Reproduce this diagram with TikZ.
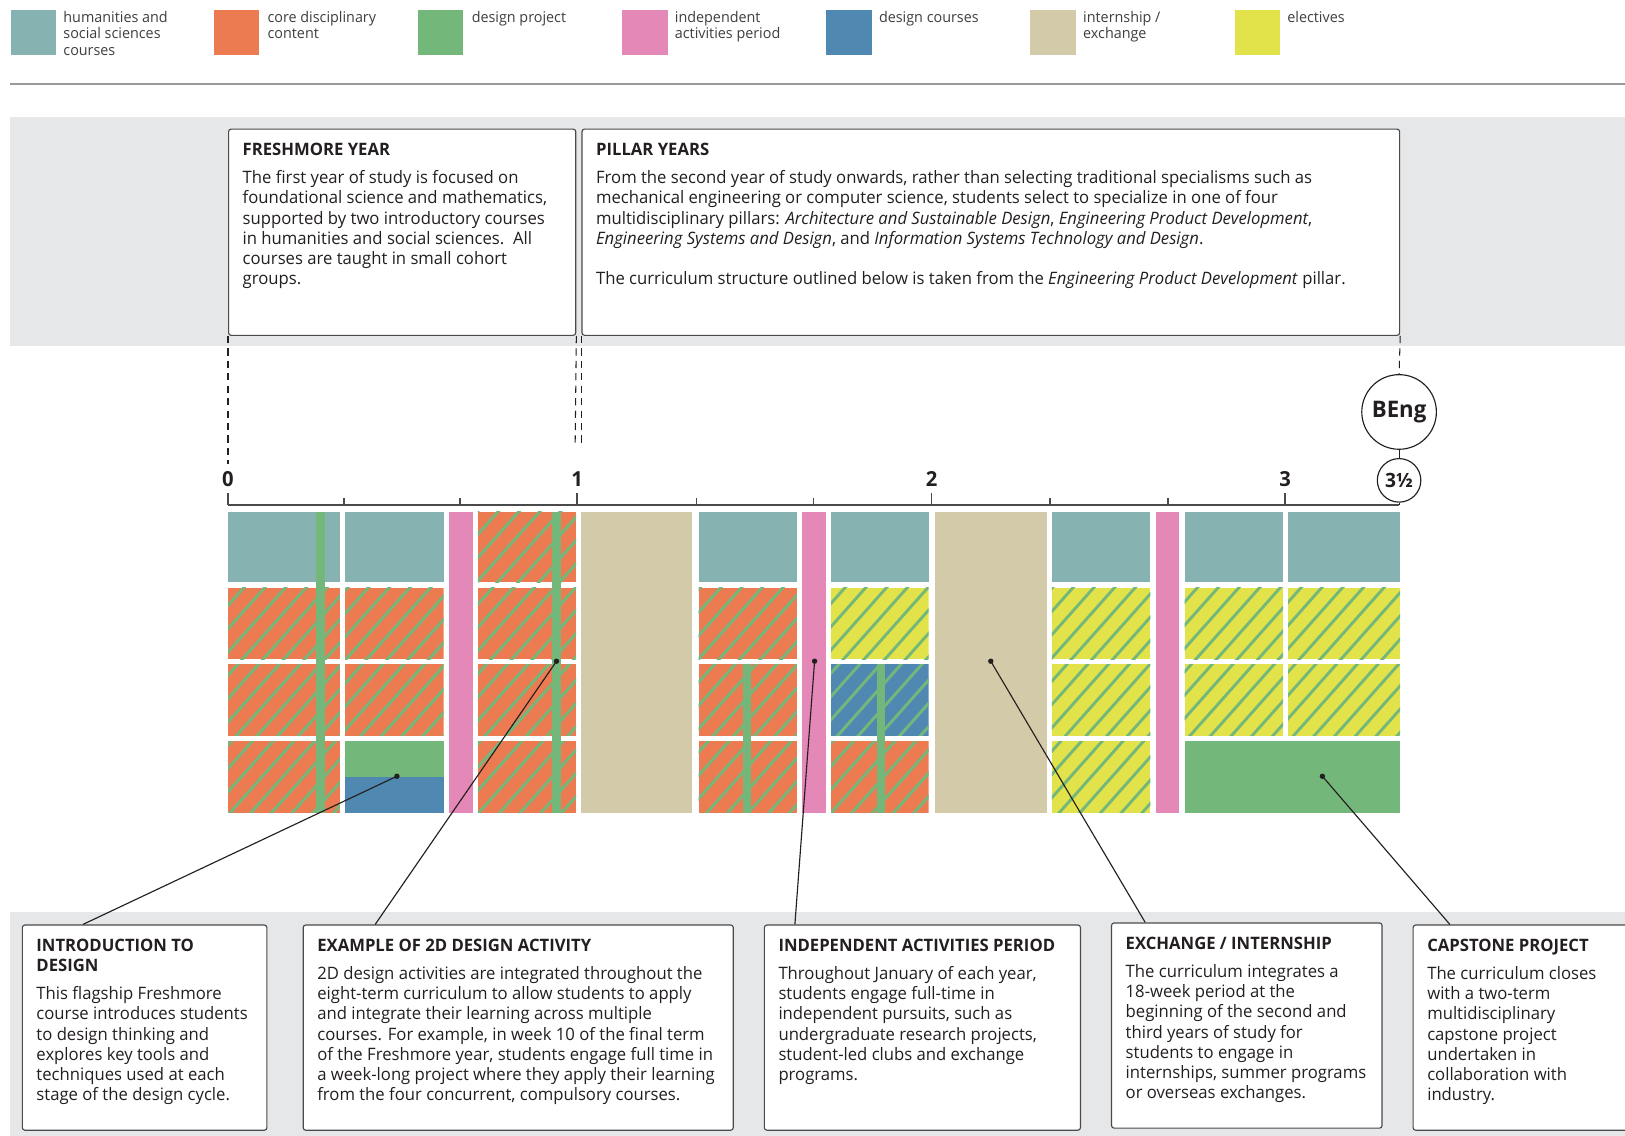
\documentclass[tikz,border=0pt]{standalone}
\usepackage{fontspec}
\setmainfont{Open Sans}[FakeStretch=0.975]
\definecolor{cteal}{HTML}{86B2B2}
\definecolor{corange}{HTML}{EC7B52}
\definecolor{cgreen}{HTML}{74B77B}
\definecolor{cpink}{HTML}{E488B8}
\definecolor{cblue}{HTML}{4F89B2}
\definecolor{ctan}{HTML}{D2CAA8}
\definecolor{cyellow}{HTML}{E2E34A}
\definecolor{band}{HTML}{E6E7E8}
\definecolor{ink}{HTML}{231F20}
\definecolor{leggray}{HTML}{3F3F3F}
\definecolor{boxline}{HTML}{4A4A4A}
\definecolor{rulegray}{HTML}{9A9A9A}
% hatched rectangle: fill colour, x1, y1, x2, y2 (y grows downwards)
\newcommand\hatchblock[5]{%
  \begin{scope}
    \clip (#2,#3) rectangle (#4,#5);
    \fill[#1] (#2,#3) rectangle (#4,#5);
    \pgfmathtruncatemacro\kmin{floor((#2+#3*0.89)/20)-1}%
    \pgfmathtruncatemacro\kmax{ceil((#4+#5*0.89)/20)+1}%
    \foreach \n in {\kmin,...,\kmax} {
      \draw[cgreen,line width=2.8pt] ({\n*20-(#3-3)*0.89},#3-3) -- ({\n*20-(#5+3)*0.89},#5+3);
    }
  \end{scope}}
\begin{document}
\begin{tikzpicture}[x=1pt,y=-1pt,
  sw/.style={minimum width=44pt,minimum height=44pt,inner sep=0pt,anchor=north west},
  leg/.style={anchor=north west,inner sep=0pt,align=left,font=\fontsize{14.2}{16}\selectfont,text=leggray},
  box/.style={draw=boxline,line width=1.1pt,rounded corners=2.5pt,fill=white,anchor=north west,inner sep=0pt},
  txt/.style={anchor=north west,inner sep=0pt,align=left,font=\fontsize{16.5}{19.5}\selectfont,text=ink},
  dsh/.style={draw=ink,line width=1pt,dash pattern=on 7pt off 5pt},
  con/.style={draw=ink,line width=1.1pt},
  tick/.style={draw=boxline,line width=1.5pt},
  ylab/.style={font=\bfseries\fontsize{20}{20}\selectfont,text=ink,inner sep=0pt}
]
\useasboundingbox (0,0) rectangle (1568,1096);
\fill[white] (0,0) rectangle (1568,1096);

% ---------- legend ----------
\node[sw,fill=cteal]   (sw1) at (10,9) {};
\node[leg] (lg1) at (61,10.5) {humanities and\\social sciences\\courses};
\node[sw,fill=corange] (sw2) at (206,9) {};
\node[leg] (lg2) at (258,10.5) {core disciplinary\\content};
\node[sw,fill=cgreen]  (sw3) at (403,9) {};
\node[leg] (lg3) at (455,10.5) {design project};
\node[sw,fill=cpink]   (sw4) at (600,9) {};
\node[leg] (lg4) at (651,10.5) {independent\\activities period};
\node[sw,fill=cblue]   (sw5) at (797,9) {};
\node[leg] (lg5) at (848,10.5) {design courses};
\node[sw,fill=ctan]    (sw6) at (994,9) {};
\node[leg] (lg6) at (1045,10.5) {internship /\\exchange};
\node[sw,fill=cyellow] (sw7) at (1191,9) {};
\node[leg] (lg7) at (1242,10.5) {electives};
\draw[rulegray,line width=1.2pt] (10,81) -- (1568,81);

% ---------- bands ----------
\fill[band] (10,113) rectangle (1568,334);
\fill[band] (10,880) rectangle (1568,1096);

% ---------- top boxes ----------
\node[box,minimum width=335pt,minimum height=199pt] (fy) at (220,124) {};
\node[txt] (fyt) at (234,138) {\textbf{FRESHMORE YEAR}\\[7.5pt]
The first year of study is focused on\\
foundational science and mathematics,\\
supported by two introductory courses\\
in humanities and social sciences.\ \ All\\
courses are taught in small cohort\\
groups.};
\node[box,minimum width=789pt,minimum height=199pt] (pb) at (561,124) {};
\node[txt] (pbt) at (575,138) {\textbf{PILLAR YEARS}\\[7.5pt]
From the second year of study onwards, rather than selecting traditional specialisms such as\\
mechanical engineering or computer science, students select to specialize in one of four\\
multidisciplinary pillars: \textit{Architecture and Sustainable Design}, \textit{Engineering Product Development},\\
\textit{Engineering Systems and Design}, and \textit{Information Systems Technology and Design}.\\[19.5pt]
The curriculum structure outlined below is taken from the \textit{Engineering Product Development} pillar.};

% ---------- axis ----------
\coordinate (ax0) at (220,487.5);
\coordinate (axend) at (1350,487.5);
\draw[tick] (ax0) -- (axend);
\foreach \x in {220,557,899,1240} \draw[tick] (\x,476) -- (\x,487.5);
\foreach \x in {332,444,672,785,1013,1127} \draw[tick] (\x,481) -- (\x,487.5);
\node[ylab] (l0) at (220,462) {0};
\node[ylab] (l1) at (557,462) {1};
\node[ylab] (l2) at (899,462) {2};
\node[ylab] (l3) at (1240,462) {3};

\node[circle,draw=ink,line width=1.1pt,fill=white,minimum size=72pt,inner sep=0pt,
      font=\bfseries\fontsize{22}{22}\selectfont,text=ink] (beng) at (1350,397.5) {BEng};
\node[circle,draw=ink,line width=1.1pt,fill=white,minimum size=42pt,inner sep=0pt,
      font=\bfseries\fontsize{19}{19}\selectfont,text=ink] (half) at (1350,463.5) {3½};
\draw[con] (beng) -- (half);
\draw[con] (half) -- (axend);

% dashed guides
\coordinate (q0) at (220,448);
\coordinate (q1a) at (555,428);
\coordinate (q1b) at (561,428);
\draw[dsh] (fy.south west) -- (q0);
\draw[dsh] (fy.south east) -- (q1a);
\draw[dsh] (pb.south west) -- (q1b);
\draw[dsh] (pb.south east) -- (beng.north);

% ---------- curriculum blocks ----------
% column A
\fill[cteal] (220,494) rectangle (328,562);
\hatchblock{corange}{220}{567}{328}{636}
\hatchblock{corange}{220}{641}{328}{710}
\hatchblock{corange}{220}{715}{328}{784}
\fill[cgreen] (305,494) rectangle (314,784);
% column B
\fill[cteal] (333,494) rectangle (428,562);
\hatchblock{corange}{333}{567}{428}{636}
\hatchblock{corange}{333}{641}{428}{710}
\fill[cgreen] (333,715) rectangle (428,750);
\fill[cblue] (333,750) rectangle (428,784);
% pink 1
\fill[cpink] (433,494) rectangle (456,784);
% column C
\hatchblock{corange}{461}{494}{556}{562}
\hatchblock{corange}{461}{567}{556}{636}
\hatchblock{corange}{461}{641}{556}{710}
\hatchblock{corange}{461}{715}{556}{784}
\fill[cgreen] (533,494) rectangle (541,784);
% tan 1
\fill[ctan] (561,494) rectangle (668,784);
% column D
\fill[cteal] (674,494) rectangle (769,562);
\hatchblock{corange}{674}{567}{769}{636}
\hatchblock{corange}{674}{641}{769}{710}
\hatchblock{corange}{674}{715}{769}{784}
\fill[cgreen] (717,641) rectangle (725,784);
% pink 2
\fill[cpink] (774,494) rectangle (797,784);
% column E
\fill[cteal] (802,494) rectangle (896,562);
\hatchblock{cyellow}{802}{567}{896}{636}
\hatchblock{cblue}{802}{641}{896}{710}
\hatchblock{corange}{802}{715}{896}{784}
\fill[cgreen] (846,641) rectangle (854,784);
% tan 2
\fill[ctan] (902,494) rectangle (1010,784);
% column F
\fill[cteal] (1015,494) rectangle (1110,562);
\hatchblock{cyellow}{1015}{567}{1110}{636}
\hatchblock{cyellow}{1015}{641}{1110}{710}
\hatchblock{cyellow}{1015}{715}{1110}{784}
% pink 3
\fill[cpink] (1115,494) rectangle (1138,784);
% columns G, H
\fill[cteal] (1143,494) rectangle (1238,562);
\hatchblock{cyellow}{1143}{567}{1238}{636}
\hatchblock{cyellow}{1143}{641}{1238}{710}
\fill[cteal] (1243,494) rectangle (1351,562);
\hatchblock{cyellow}{1243}{567}{1351}{636}
\hatchblock{cyellow}{1243}{641}{1351}{710}
\fill[cgreen] (1143,715) rectangle (1351,784);

% ---------- bottom boxes ----------
\node[box,minimum width=236pt,minimum height=198pt] (b1) at (21,892) {};
\node[txt] (b1t) at (35,906) {\textbf{INTRODUCTION TO}\\\textbf{DESIGN}\\[7.5pt]
This flagship Freshmore\\
course introduces students\\
to design thinking and\\
explores key tools and\\
techniques used at each\\
stage of the design cycle.};
\node[box,minimum width=415pt,minimum height=198pt] (b2) at (292,892) {};
\node[txt] (b2t) at (306,906) {\textbf{EXAMPLE OF 2D DESIGN ACTIVITY}\\[7.5pt]
2D design activities are integrated throughout the\\
eight-term curriculum to allow students to apply\\
and integrate their learning across multiple\\
courses. For example, in week 10 of the final term\\
of the Freshmore year, students engage full time in\\
a week-long project where they apply their learning\\
from the four concurrent, compulsory courses.};
\node[box,minimum width=305pt,minimum height=198pt] (b3) at (737,892) {};
\node[txt] (b3t) at (751,906) {\textbf{INDEPENDENT ACTIVITIES PERIOD}\\[7.5pt]
Throughout January of each year,\\
students engage full-time in\\
independent pursuits, such as\\
undergraduate research projects,\\
student-led clubs and exchange\\
programs.};
\node[box,minimum width=261pt,minimum height=198pt] (b4) at (1072,890) {};
\node[txt] (b4t) at (1086,904) {\textbf{EXCHANGE / INTERNSHIP}\\[7.5pt]
The curriculum integrates a\\
18-week period at the\\
beginning of the second and\\
third years of study for\\
students to engage in\\
internships, summer programs\\
or overseas exchanges.};
\node[box,minimum width=230pt,minimum height=198pt] (b5) at (1363,892) {};
\node[txt] (b5t) at (1377,906) {\textbf{CAPSTONE PROJECT}\\[7.5pt]
The curriculum closes\\
with a two-term\\
multidisciplinary\\
capstone project\\
undertaken in\\
collaboration with\\
industry.};

% ---------- connectors ----------
\coordinate (d1) at (383,749);
\coordinate (d2) at (537,638);
\coordinate (d3) at (786,638);
\coordinate (d4) at (956,638);
\coordinate (d5) at (1276,749);
\coordinate (e1) at (80,892);
\coordinate (e2) at (362,892);
\coordinate (e3) at (767,892);
\coordinate (e4) at (1105,890);
\coordinate (e5) at (1399,892);
\foreach \i in {1,...,5} {
  \draw[con] (d\i) -- (e\i);
  \fill[ink] (d\i) circle (2.6pt);
}
\end{tikzpicture}
\end{document}
